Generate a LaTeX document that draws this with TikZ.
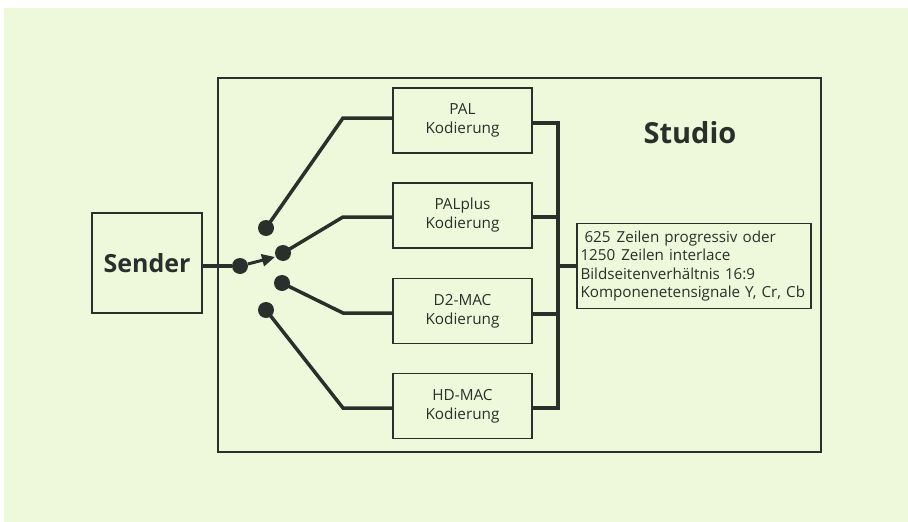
\documentclass[tikz,border=0pt]{standalone}
\usepackage{fontspec}
\setmainfont{Open Sans}
\usetikzlibrary{arrows.meta}
\definecolor{bg}{HTML}{EEF8DA}
\definecolor{ink}{HTML}{2B2F2B}
\begin{document}
\begin{tikzpicture}[x=1pt,y=-1pt,
  box/.style={draw=ink,line width=1.5pt,minimum width=139pt,minimum height=65pt,inner sep=0pt,align=center,font=\fontsize{15.3}{19}\selectfont,text=ink},
  wire/.style={draw=ink,line width=3.5pt,line join=miter},
  contact/.style={circle,fill=ink,minimum size=16pt,inner sep=0pt}]
\useasboundingbox (0,0) rectangle (908,522);
\fill[white] (0,0) rectangle (908,522);
\fill[bg] (4,8) rectangle (908,522);
% Studio frame
\draw[ink,line width=2pt] (218,78) rectangle (821,452);
\node[font=\fontsize{29}{34}\selectfont\bfseries,text=ink] (studio) at (690,133) {Studio};
% Sender
\node[draw=ink,line width=1.5pt,minimum width=110pt,minimum height=100pt,inner sep=0pt,font=\fontsize{25}{30}\selectfont\bfseries,text=ink] (sender) at (147,263) {Sender};
% coding boxes
\node[box] (pal) at (462.5,120.5) {PAL\\Kodierung};
\node[box] (palplus) at (462.5,215.5) {PALplus\\Kodierung};
\node[box] (d2mac) at (462.5,311) {D2-MAC\\Kodierung};
\node[box] (hdmac) at (462.5,406) {HD-MAC\\Kodierung};
% info box
\node[draw=ink,line width=1.5pt,text width=227pt,minimum height=85pt,inner xsep=3.5pt,inner ysep=0pt,align=left,font=\fontsize{15.2}{18.3}\selectfont,text=ink] (info) at (694,266) {\hspace*{4pt}625\hspace{6pt}Zeilen progressiv oder\\1250\hspace{6pt}Zeilen interlace\\Bildseitenverhältnis 16:9\\Komponenetensignale Y, Cr, Cb};
% contacts
\node[contact] (cin) at (240,266) {};
\node[contact] (c1) at (266,228) {};
\node[contact] (c2) at (283,253) {};
\node[contact] (c3) at (282,283) {};
\node[contact] (c4) at (266,310) {};
% bend points
\coordinate (b1) at (343,118);
\coordinate (b2) at (343,217);
\coordinate (b3) at (343,313);
\coordinate (b4) at (343,408);
\coordinate (tip) at (275,257);
\coordinate (bustop) at (558,123);
\coordinate (busbot) at (558,408);
\coordinate (busmid) at (558,266);
% wires
\draw[wire] (sender.east |- cin) -- (cin);
\draw[ink,line width=3pt,-{Triangle[length=13pt,width=12pt]}] (cin) -- (tip);
\draw[wire] (c1.center) -- (b1) -- (pal.west |- b1);
\draw[wire] (c2.center) -- (b2) -- (palplus.west |- b2);
\draw[wire] (c3.center) -- (b3) -- (d2mac.west |- b3);
\draw[wire] (c4.center) -- (b4) -- (hdmac.west |- b4);
\draw[wire] (pal.east |- bustop) -- (bustop) -- (busbot) -- (hdmac.east |- busbot);
\draw[wire] (palplus.east |- 0,217) -- (558,217);
\draw[wire] (d2mac.east |- 0,314) -- (558,314);
\draw[wire] (busmid) -- (info.west |- busmid);
\end{tikzpicture}
\end{document}
